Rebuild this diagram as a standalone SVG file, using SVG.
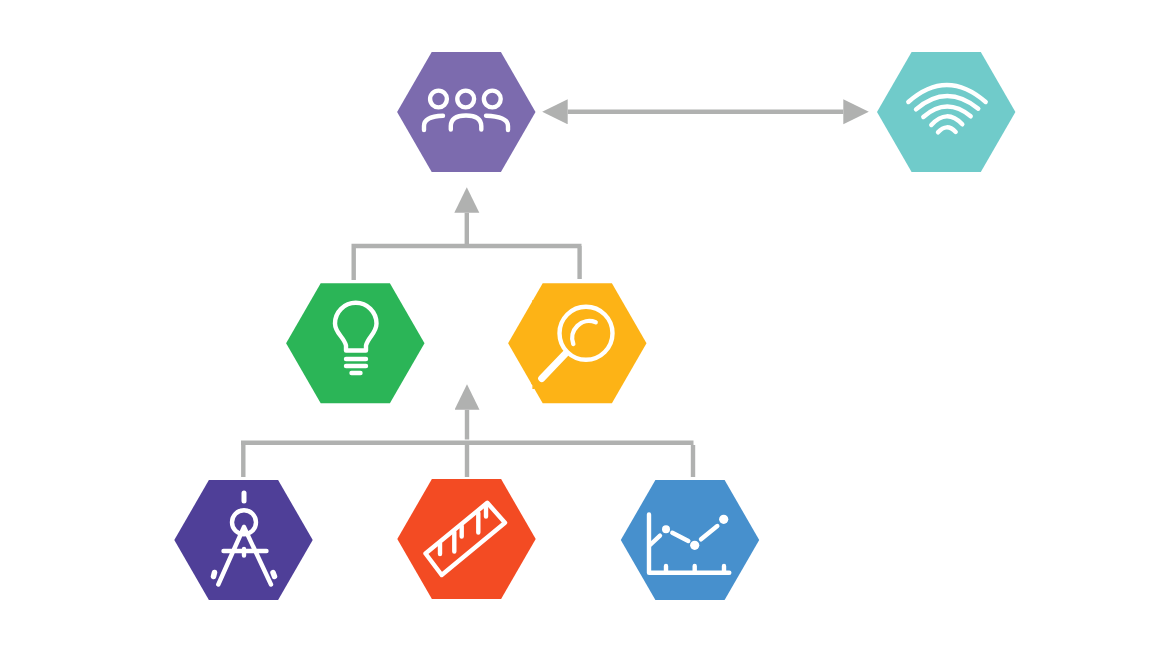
<svg xmlns="http://www.w3.org/2000/svg" width="1149" height="649" viewBox="0 0 1149 649">
<style>
.conn{fill:none;stroke:#b0b1b0;stroke-width:4.4}
.ico{fill:none;stroke:#fff;stroke-width:4.4;stroke-linecap:round;stroke-linejoin:round}
.dot{fill:#fff}
</style>
<defs>
<polygon id="hex" points="-69.2,0 -34.6,-60 34.6,-60 69.2,0 34.6,60 -34.6,60"/>
<marker id="head" markerUnits="userSpaceOnUse" markerWidth="26" markerHeight="26" refX="0" refY="12.5" orient="auto-start-reverse"><polygon points="0,0 25.5,12.5 0,25" fill="#b0b1b0"/></marker>
</defs>
<rect width="1149" height="649" fill="#fff"/>
<g id="connectors">
<path class="conn" d="M567.7 111.8H843.3" marker-start="url(#head)" marker-end="url(#head)"/>
<path class="conn" d="M466.8 245V212.8" marker-end="url(#head)"/>
<path class="conn" d="M351.5 246H581.5M353.7 246V280M579.6 246V279"/>
<path class="conn" d="M467 439.5V409.8" marker-end="url(#head)"/>
<path class="conn" d="M241 442.7H693.5M243.3 445V477M693 445V477M467 445V477"/>
</g>
<g id="node-people">
<use href="#hex" x="466.3" y="112" fill="#7c6bae"/>
<g class="ico"><circle cx="438.5" cy="99" r="8.4"/><circle cx="465.7" cy="99" r="8.4"/><circle cx="492.3" cy="99" r="8.4"/>
<path d="M424 130V126Q424 116.500 443 115.800"/><path d="M450.800 129.500V126Q451 115.500 466 115.500T481.300 126V129.500"/><path d="M486 115.800Q508 116.500 508 126V130"/></g>
</g>
<g id="node-wifi">
<use href="#hex" x="946.2" y="112" fill="#70cbca"/>
<g class="ico"><path d="M908.300 102Q946.700 68 985.700 102"/><path d="M916 109.300Q946.700 83 978.300 108.700"/><path d="M923.300 117Q946.700 96.500 970.700 116.300"/><path d="M931.300 125Q946.700 108 962.300 124.300"/><path d="M938 132.300Q946.700 122.500 955.700 132"/></g>
</g>
<g id="node-bulb">
<use href="#hex" x="355.300" y="343.200" fill="#2bb557"/>
<g class="ico"><path d="M346 350.500V345.500C344 337 335 333 335 323.500A20.700 20.700 0 0 1 376.500 323.500C376.500 333 368 337 366 345.500V350.500Z"/><path d="M346 359H366M346 366H366M351.500 373H360.500"/></g>
</g>
<g id="node-magnifier">
<use href="#hex" x="577.300" y="343.200" fill="#fdb316"/>
<path d="M531 383H532.400V389H535ZM532.400 300H534L532.400 303Z" fill="#fdb316"/>
<g class="ico"><circle cx="586" cy="333.300" r="26.500"/><path d="M573.300 344A17 17 0 0 1 595.700 322.300"/><path d="M565.700 353.300L541.700 378.500" stroke-width="7"/></g>
</g>
<g id="node-compass">
<use href="#hex" x="243.500" y="540" fill="#4f3f98"/>
<g class="ico"><path d="M244 493V501" stroke-width="5"/><circle cx="244" cy="522.300" r="12"/><path d="M244 527L218.300 584.500M244 527L271 584.500M223.500 551H266.500M244 549V555.500"/><path d="M214.500 572.500L213.500 576.500M273 572.500L274.500 576.500" stroke-width="5.500"/></g>
</g>
<g id="node-ruler">
<use href="#hex" x="466.500" y="539" fill="#f34b23"/>
<g class="ico"><path d="M425.500 553.500L487.300 502.800L505 522.700L441.700 575Z"/><path d="M440 543V554M454.300 532V551.500M461.700 526V536.500M478.300 513V532.500M486 506V516.500"/></g>
</g>
<g id="node-chart">
<use href="#hex" x="690" y="540" fill="#4790cd"/>
<g class="ico"><path d="M649 514.500V572.700H729.300M666 566V572.700M694.700 566V572.700M724 566V572.700"/><path d="M650 545L660 535.700M672.300 532.700L688.300 541M701 539.300L717.300 526"/></g>
<circle class="dot" cx="666" cy="529.300" r="4"/><circle class="dot" cx="694.700" cy="545.300" r="4.600"/><circle class="dot" cx="723.700" cy="519.300" r="4.600"/>
</g>
</svg>
